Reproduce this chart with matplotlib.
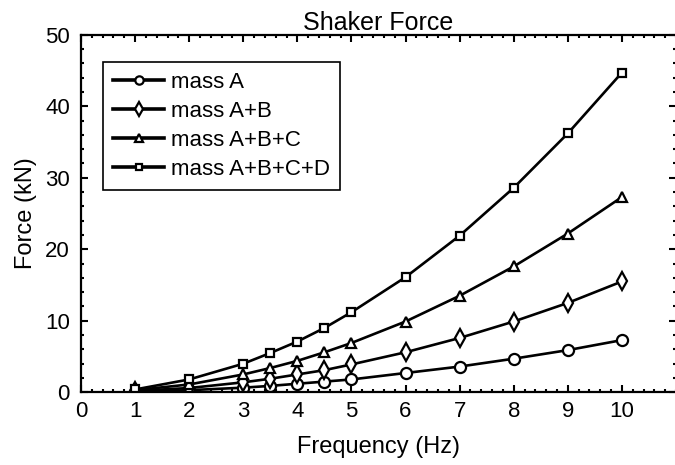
import matplotlib
matplotlib.use('Agg')
import matplotlib.pyplot as plt
from matplotlib.ticker import MultipleLocator

plt.rcParams['font.family'] = ['Liberation Sans', 'DejaVu Sans']

freq = [1, 2, 3, 3.5, 4, 4.5, 5, 6, 7, 8, 9, 10]
mass_a = [0.07, 0.3, 0.65, 0.9, 1.2, 1.5, 1.8, 2.7, 3.6, 4.7, 5.9, 7.3]
mass_ab = [0.2, 0.6, 1.4, 1.9, 2.5, 3.1, 3.9, 5.6, 7.6, 9.9, 12.5, 15.5]
mass_abc = [0.3, 1.1, 2.5, 3.4, 4.4, 5.6, 6.9, 9.9, 13.5, 17.6, 22.2, 27.3]
mass_abcd = [0.4, 1.8, 4.0, 5.5, 7.1, 9.0, 11.2, 16.1, 21.9, 28.6, 36.2, 44.7]

labels = ['mass A', 'mass A+B', 'mass A+B+C', 'mass A+B+C+D']
markers = ['o', 'd', '^', 's']
sizes = [8, 9, 7.5, 6]

fig = plt.figure(figsize=(6.75, 4.65), dpi=100)
ax = fig.add_axes([0.12, 0.1563, 0.8815, 0.7691])

series = [mass_a, mass_ab, mass_abc, mass_abcd]
for vals, lab, mk, ms in zip(series, labels, markers, sizes):
    ax.plot(freq, vals, color='black', lw=1.9, marker=mk, ms=ms,
            mfc='white', mec='black', mew=1.6, label=lab)

ax.set_xlim(0, 11)
ax.set_ylim(0, 50)
ax.set_xticks(range(0, 11))
ax.set_yticks(range(0, 51, 10))
ax.xaxis.set_minor_locator(MultipleLocator(0.2))
ax.yaxis.set_minor_locator(MultipleLocator(2))
ax.tick_params(which='both', direction='in', top=True, right=True, labelsize=16, width=1.5)
ax.tick_params(which='major', length=5, pad=6)
ax.tick_params(axis='y', which='major', pad=8)
ax.tick_params(which='minor', length=2.5)
for s in ax.spines.values():
    s.set_linewidth(1.6)

ax.set_xlabel('Frequency (Hz)', fontsize=17, labelpad=10)
ax.set_ylabel('Force (kN)', fontsize=17, labelpad=6)
ax.set_title('Shaker Force', fontsize=18, pad=3)

leg = ax.legend(loc='upper left', bbox_to_anchor=(0.037, 0.9237), fontsize=16,
                handlelength=2.3, labelspacing=0.36, fancybox=False,
                framealpha=1, edgecolor='black', borderpad=0.45,
                borderaxespad=0, handletextpad=0.3, markerscale=0.75)
leg.get_frame().set_linewidth(1.2)
for h in leg.get_lines():
    h.set_linewidth(2.6)

fig.savefig('out.png', dpi=100)
